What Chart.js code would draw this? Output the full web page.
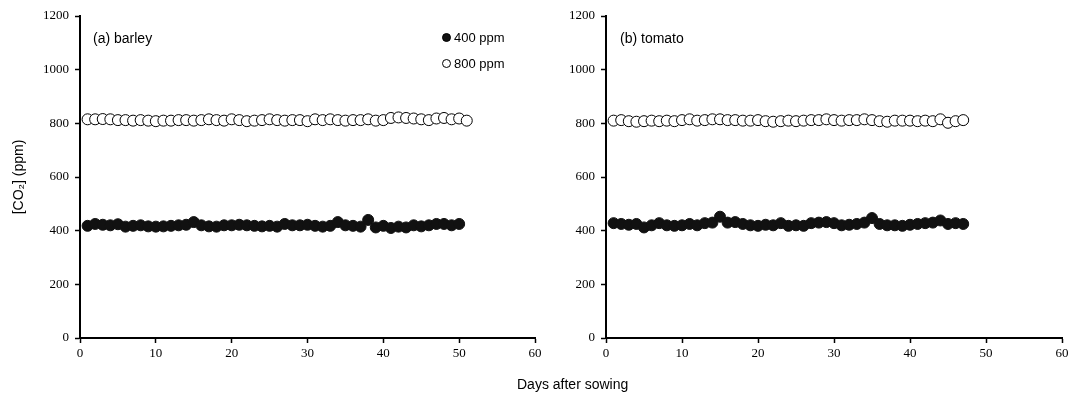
<!DOCTYPE html>
<html><head><meta charset="utf-8">
<script src="https://cdn.jsdelivr.net/npm/chart.js@4.4.1/dist/chart.umd.min.js"></script>
<style>
html,body{margin:0;padding:0;background:#fff;}
#wrap{position:relative;width:1075px;height:400px;overflow:hidden;font-family:"Liberation Sans",Arial,sans-serif;color:#000;}
.cv{position:absolute;top:0;}
.lbl{position:absolute;font-size:14px;line-height:14px;white-space:nowrap;}
.leg{position:absolute;font-size:13px;line-height:13px;white-space:nowrap;}
.dot{display:inline-block;width:9px;height:9px;border-radius:50%;border:1px solid #000;box-sizing:border-box;margin-right:3px;vertical-align:0px;}
</style></head>
<body><div id="wrap">
<div class="cv" style="left:0;width:545px;height:400px;"><canvas id="c1"></canvas></div>
<div class="cv" style="left:530px;width:545px;height:400px;"><canvas id="c2"></canvas></div>
<div class="lbl" style="left:93px;top:31px;">(a) barley</div>
<div class="lbl" style="left:620px;top:31px;">(b) tomato</div>
<div class="leg" style="left:442px;top:31px;"><span class="dot" style="background:#111"></span>400 ppm</div>
<div class="leg" style="left:442px;top:57px;"><span class="dot" style="background:#fff"></span>800 ppm</div>
<div class="lbl" style="left:517px;top:377px;">Days after sowing</div>
</div>
<script>
const barleyDays400 = [1,2,3,4,5,6,7,8,9,10,11,12,13,14,15,16,17,18,19,20,21,22,23,24,25,26,27,28,29,30,31,32,33,34,35,36,37,38,39,40,41,42,43,44,45,46,47,48,49,50];
const barley400 = [418,425,422,420,424,415,418,420,416,415,416,418,420,422,432,420,416,415,420,420,422,420,418,416,418,415,425,420,420,422,418,415,418,432,420,418,415,440,412,418,410,415,412,420,416,420,425,425,420,425];
const barleyDays800 = [1,2,3,4,5,6,7,8,9,10,11,12,13,14,15,16,17,18,19,20,21,22,23,24,25,26,27,28,29,30,31,32,33,34,35,36,37,38,39,40,41,42,43,44,45,46,47,48,49,50,51];
const barley800 = [815,815,816,815,812,812,810,812,810,808,810,810,812,812,810,812,815,812,810,815,812,808,810,812,815,812,810,812,812,808,815,812,815,812,810,812,812,815,810,812,820,822,820,818,815,812,818,820,815,818,810];
const tomatoDays = [1,2,3,4,5,6,7,8,9,10,11,12,13,14,15,16,17,18,19,20,21,22,23,24,25,26,27,28,29,30,31,32,33,34,35,36,37,38,39,40,41,42,43,44,45,46,47];
const tomato400 = [428,425,422,425,412,420,428,420,418,420,425,420,428,430,452,430,432,425,420,418,422,420,428,418,420,418,428,430,432,428,420,422,425,430,447,425,420,420,418,422,425,428,430,438,425,428,425];
const tomato800 = [810,812,808,806,808,810,808,810,808,812,815,810,812,815,815,812,812,810,810,812,808,806,808,810,808,810,812,812,815,812,810,812,812,815,812,808,806,810,810,810,808,810,808,815,802,808,812];
const xTicks = [0,10,20,30,40,50,60];
const yTicks = [0,200,400,600,800,1000,1200];

function pts(xs, ys){ return xs.map((x,i)=>({x:x,y:ys[i]})); }

function makeChart(id, d400x, d400, d800x, d800, showTitle, yWidth, padRight){
  const tickFont = {family:'"Liberation Serif","DejaVu Serif",serif', size:13};
  new Chart(document.getElementById(id), {
    type:'scatter',
    data:{datasets:[
      {data:pts(d800x,d800), showLine:true, borderColor:'#444', borderWidth:1, pointRadius:5.5, pointBackgroundColor:'#fff', pointBorderColor:'#000', pointBorderWidth:1},
      {data:pts(d400x,d400), showLine:true, borderColor:'#111', borderWidth:1, pointRadius:5.5, pointBackgroundColor:'#111', pointBorderColor:'#111', pointBorderWidth:1}
    ]},
    options:{
      responsive:true, maintainAspectRatio:false, animation:false,
      layout:{padding:{top:16,right:padRight,left:0,bottom:0}},
      plugins:{legend:{display:false}, tooltip:{enabled:false}},
      scales:{
        x:{type:'linear', min:0, max:60,
          afterBuildTicks:(s)=>{s.ticks = xTicks.map(v=>({value:v}));},
          afterFit:(s)=>{s.height = 62;},
          ticks:{color:'#000', font:tickFont, padding:3, maxRotation:0, autoSkip:false, callback:(v)=>String(v)},
          grid:{drawOnChartArea:false, drawTicks:true, tickLength:5, tickColor:'#000', tickWidth:1.5},
          border:{display:true, color:'#000', width:2}},
        y:{type:'linear', min:0, max:1200,
          afterBuildTicks:(s)=>{s.ticks = yTicks.map(v=>({value:v}));},
          afterFit:(s)=>{s.width = yWidth;},
          title:{display:showTitle, text:'[CO\u2082] (ppm)', color:'#000', font:{family:'"Liberation Sans",Arial,sans-serif', size:14}, padding:{top:11,bottom:0}},
          ticks:{color:'#000', font:tickFont, padding:6, autoSkip:false, callback:(v)=>String(v)},
          grid:{drawOnChartArea:false, drawTicks:true, tickLength:5, tickColor:'#000', tickWidth:1.5},
          border:{display:true, color:'#000', width:2}}
      }
    }
  });
}
makeChart('c1', barleyDays400, barley400, barleyDays800, barley800, true, 80, 10);
makeChart('c2', tomatoDays, tomato400, tomatoDays, tomato800, false, 76, 13);
</script>
</body></html>
